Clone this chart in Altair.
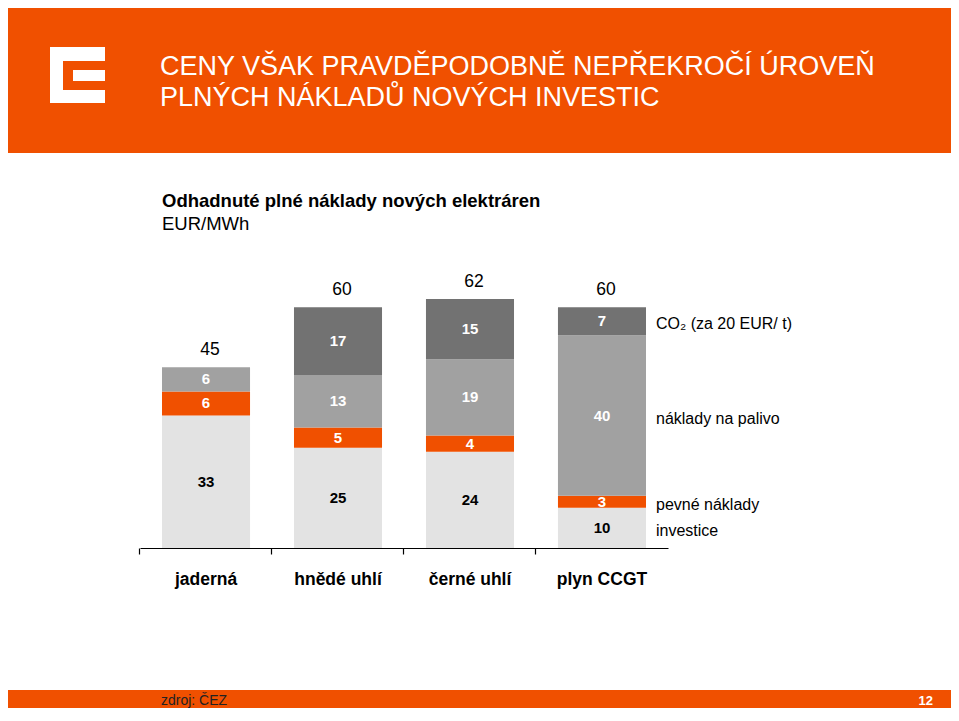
import altair as alt
import pandas as pd

FONT = "Liberation Sans"

# ---------------- data ----------------
categories = ["jaderná", "hnědé uhlí", "černé uhlí", "plyn CCGT"]
series = ["investice", "pevné náklady", "náklady na palivo", "CO₂ (za 20 EUR/ t)"]
investice = [33, 25, 24, 10]
pevne_naklady = [6, 5, 4, 3]
naklady_palivo = [6, 13, 19, 40]
co2 = [0, 17, 15, 7]
totals = [45, 60, 62, 60]

series_colors = ["#E3E3E3", "#F05000", "#A1A1A1", "#727272"]
label_colors = ["#000000", "#FFFFFF", "#FFFFFF", "#FFFFFF"]

title_lines = ["CENY VŠAK PRAVDĚPODOBNĚ NEPŘEKROČÍ ÚROVEŇ", "PLNÝCH NÁKLADŮ NOVÝCH INVESTIC"]
subtitle = "Odhadnuté plné náklady nových elektráren"
unit = "EUR/MWh"
source = "zdroj: ČEZ"
page_no = "12"

ORANGE = "#F05000"

# ---------------- tables ----------------
values_by_series = [investice, pevne_naklady, naklady_palivo, co2]
rows = []
for ci, cat in enumerate(categories):
    base = 0
    for si, s in enumerate(series):
        v = values_by_series[si][ci]
        if v > 0:
            rows.append({"cat": cat, "series": s, "value": v, "y0": base, "y1": base + v,
                         "mid": base + v / 2, "lc": label_colors[si], "order": si})
        base += v
bars_df = pd.DataFrame(rows)
totals_df = pd.DataFrame({"cat": categories, "total": totals})
last = bars_df[bars_df["cat"] == categories[-1]]
legend_df = pd.DataFrame({"series": last["series"].tolist(), "mid": last["mid"].tolist()})

one = pd.DataFrame({"k": [0]})

x_enc = alt.X(
    "cat:N", sort=categories,
    scale=alt.Scale(domain=categories, paddingInner=0.333, paddingOuter=0.1667),
    axis=alt.Axis(title=None, labelAngle=0, labelFont=FONT, labelFontSize=17.5,
                  labelFontWeight="bold", labelColor="#000000", labelPadding=30,
                  labelBaseline="alphabetic", tickSize=6, tickColor="#000000",
                  domainColor="#000000", bandPosition=-0.25, domainWidth=1.2, tickWidth=1.2),
)
y_scale = alt.Scale(domain=[0, 70], nice=False, zero=True)

bars = alt.Chart(bars_df).mark_bar().encode(
    x=x_enc,
    y=alt.Y("y0:Q", scale=y_scale, axis=None),
    y2="y1:Q",
    color=alt.Color("series:N", scale=alt.Scale(domain=series, range=series_colors), legend=None),
)

bar_labels = alt.Chart(bars_df).mark_text(font=FONT, fontSize=15, fontWeight="bold", baseline="middle").encode(
    x=x_enc,
    y=alt.Y("mid:Q", scale=y_scale, axis=None),
    text="value:Q",
    color=alt.Color("lc:N", scale=None),
)

total_labels = alt.Chart(totals_df).mark_text(font=FONT, fontSize=17.5, baseline="bottom", dx=4, dy=-8,
                                                color="#000000").encode(
    x=x_enc,
    y=alt.Y("total:Q", scale=y_scale, axis=None),
    text="total:Q",
)

legend_labels = alt.Chart(legend_df).mark_text(font=FONT, fontSize=16, align="left", baseline="middle",
                                                 dy=3, color="#000000").encode(
    x=alt.value(516),
    y=alt.Y("mid:Q", scale=y_scale, axis=None),
    text="series:N",
)


def rect(x, x2, y, y2, color):
    return alt.Chart(one).mark_rect(color=color).encode(
        x=alt.value(x), x2=alt.value(x2), y=alt.value(y), y2=alt.value(y2))


def label(txt, x, y, size, color, weight="normal", align="left"):
    return alt.Chart(one).mark_text(text=txt, font=FONT, fontSize=size, color=color, fontWeight=weight,
                                    align=align, baseline="alphabetic").encode(x=alt.value(x), y=alt.value(y))


decor = [
    rect(-132, 811, -259, -114, ORANGE),           # header
    rect(-90, -77, -220, -164, "#FFFFFF"),         # logo left bar
    rect(-90, -35, -220, -206, "#FFFFFF"),         # logo top bar
    rect(-90, -35, -177, -164, "#FFFFFF"),         # logo bottom bar
    rect(-67, -35, -197, -186, "#FFFFFF"),         # logo middle bar
    label(title_lines[0], 20, -192, 27, "#FFFFFF"),
    label(title_lines[1], 20, -161, 27, "#FFFFFF"),
    label(subtitle, 22, -60, 18.5, "#000000", weight="bold"),
    label(unit, 22, -37, 18.5, "#000000"),
    rect(-132, 811, 423, 441, ORANGE),             # footer
    label(source, 21, 438, 14, "#222222"),
    label(page_no, 793, 438, 13, "#FFFFFF", weight="bold", align="right"),
]

chart = alt.layer(*decor, bars, bar_labels, total_labels, legend_labels).properties(
    width=528, height=281,
    autosize=alt.AutoSizeParams(type="none"),
    padding={"left": 132, "top": 259, "right": 283, "bottom": 160},
    background="#FFFFFF",
).configure_view(stroke=None)

chart.save("out.html", embed_options={"renderer": "svg", "actions": False})
